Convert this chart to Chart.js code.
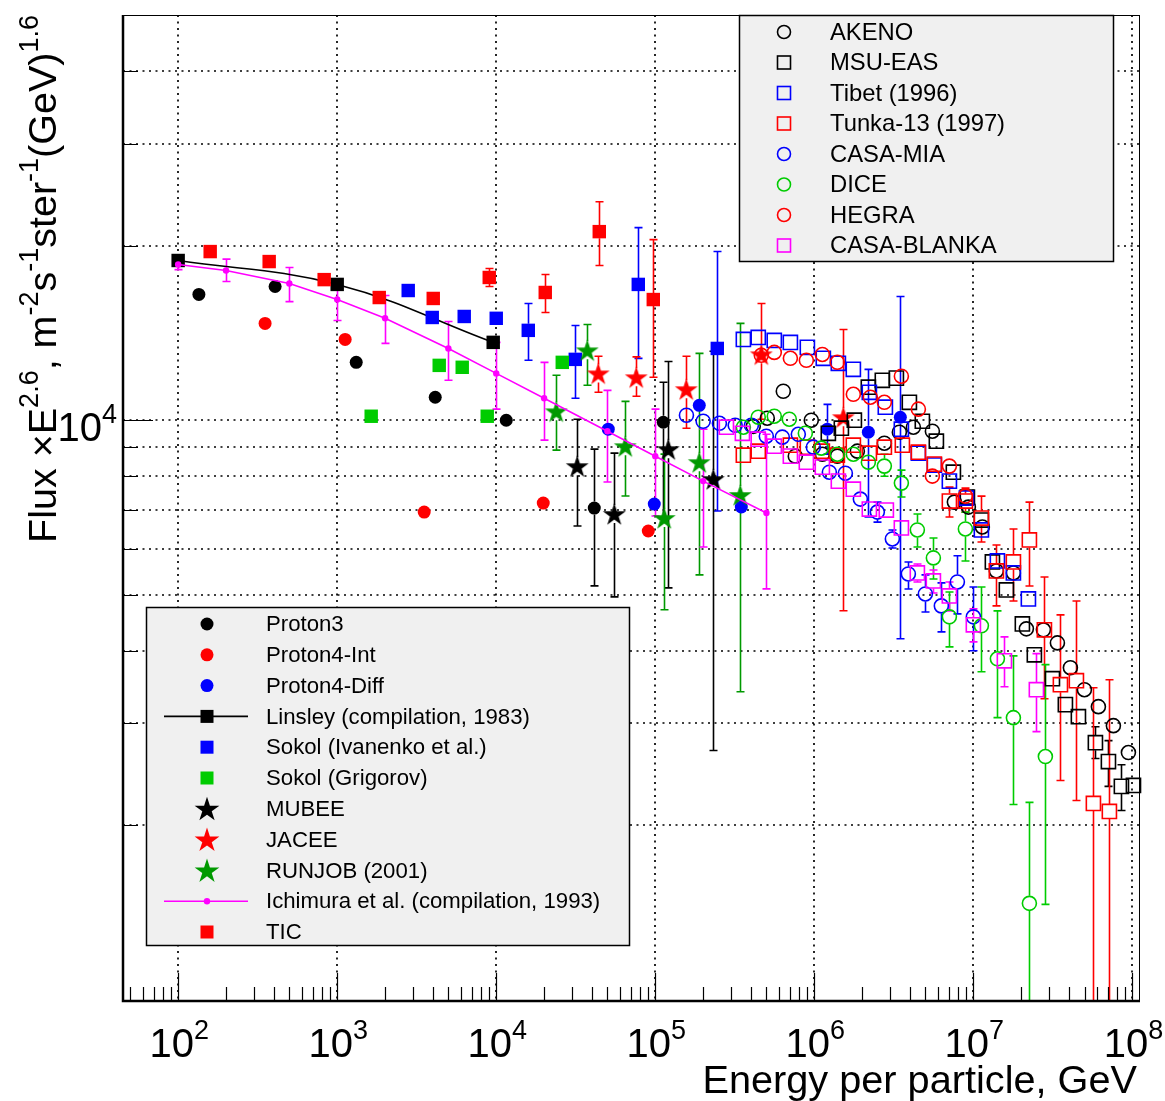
<!DOCTYPE html>
<html>
<head>
<meta charset="utf-8">
<script src="https://cdn.jsdelivr.net/npm/chart.js@4.4.1/dist/chart.umd.min.js"></script>
<style>
  body { margin: 0; background: #fff; }
  #wrap { width: 1165px; height: 1101px; }
</style>
</head>
<body>
<div id="wrap"><canvas id="spectrum" width="1165" height="1101"></canvas></div>
<script>
// ---- data (energy per particle in GeV, flux x E^2.6) ----
const proton3E = [135, 407, 1317, 4134, 11560, 41340, 112300];
const proton3F = [16480, 17010, 12585, 10955, 10000, 7055, 9921];
const proton3Err = [null, null, null, null, null, [5180, 8916], [6755, 11625]];

const proton4IntE = [352, 1122, 3524, 19750, 90360];
const proton4IntF = [14690, 13785, 6945, 7196, 6441];

const proton4DiffE = [50630, 98560, 189100, 347400, 1.207e6, 2.186e6, 3.474e6];
const proton4DiffF = [9650, 7168, 10612, 7085, 9650, 9536, 10120];
const proton4DiffErr = [null, null, null, null, [8740, 10650], [6809, 12240], [4198, 16350]];

const linsleyE = [100, 1000, 9570];
const linsleyF = [18860, 17150, 13625];

const sokolIvE = [2796, 3959, 6290, 10000, 15900, 31400, 78180, 245400];
const sokolIvF = [16740, 15040, 15100, 14990, 14290, 12735, 17150, 13300];
const sokolIvErr = [null, null, null, null, [12687, 15900], [10910, 14570], [12785, 21490], [6973, 19540]];

const sokolGrE = [1636, 4380, 6111, 8777, 26010];
const sokolGrF = [10160, 12435, 12340, 10160, 12585];

const mubeeE = [32310, 55240, 120700, 231700];
const mubeeF = [8333, 6890, 8915, 7915];
const mubeeErr = [[6570, 10040], [4959, 8775], [5138, 12630], [2694, 13150]];

const jaceeE = [43800, 75930, 156700, 464200, 1.522e6];
const jaceeF = [12045, 11860, 11310, 12990, 10120];
const jaceeErr = [[11175, 12890], [11000, 12860], [9687, 12890], [10040, 15900], [4692, 14340]];

const runjobE = [23850, 37350, 64760, 113900, 189100, 342400];
const runjobF = [10360, 13200, 9020, 6781, 8467, 7430];
const runjobErr = [[8880, 11955], [11490, 14630], [7400, 10780], [4710, 8740], [5411, 13040], [3402, 14690]];

const ichimuraE = [100, 200, 500, 1000, 2000, 5000, 1e4, 2e4, 5e4, 1e5, 2e5, 5e5];
const ichimuraF = [18560, 18120, 17210, 16150, 14990, 13300, 12045, 10910, 9574, 8670, 7852, 6918];
const ichimuraErr = [[18190, 18960], [17350, 18960], [16020, 18340], [14860, 17420], [13570, 16410], [11720, 14800],
  [10450, 13625], [9240, 12585], [7823, 11260], [6836, 10450], [6046, 9650], [5118, 9460]];

const ticE = [159, 373.5, 828, 1838, 4017, 9037, 20330, 44440, 97140];
const ticF = [19540, 18780, 17480, 16280, 16220, 17630, 16610, 21150, 16150];
const ticErr = [null, null, null, null, null, [17010, 18270], [15340, 17840], [18490, 23820], [11860, 20490]];

const akenoE = [4.13e5, 5.06e5, 6.38e5, 7.59e5, 9.57e5, 1.123e6, 1.395e6, 1.864e6, 2.756e6, 3.424e6, 4.195e6, 5.524e6,
  7.595e6, 9.303e6, 1.139e7, 1.395e7, 1.785e7, 2.154e7, 2.756e7, 3.376e7, 4.074e7, 4.99e7, 6.111e7, 7.593e7, 9.437e7];
const akenoF = [9761, 10080, 11220, 8671, 10000, 8738, 8671, 8844, 9128, 9535, 9727, 9573,
  7224, 7083, 6545, 5496, 5452, 4367, 4350, 4130, 3742, 3429, 3206, 2973, 2672];

const msuE = [1.225e6, 1.479e6, 1.785e6, 2.186e6, 2.677e6, 3.279e6, 3.959e6, 4.777e6, 5.852e6, 7.486e6, 9.17e6, 1.123e7,
  1.317e7, 1.613e7, 2.033e7, 2.418e7, 3.14e7, 3.789e7, 4.575e7, 5.852e7, 7.066e7, 8.527e7, 1.015e8];
const msuF = [9496, 9689, 10000, 11400, 11720, 11820, 10740, 9960, 9201, 8136, 7370, 6727,
  5696, 5097, 4453, 3939, 3582, 3232, 3081, 2779, 2578, 2336, 2345];
const msuErr = [null, null, null, null, null, null, null, null, null, null, null, null,
  null, null, null, null, null, null, null, [2609, 2961], [2336, 2801], [2123, 2546], null];

const tibetE = [3.58e5, 4.44e5, 5.6e5, 7.07e5, 9.04e5, 1.139e6, 1.416e6, 1.759e6, 2.218e6, 2.796e6, 3.526e6, 4.51e6,
  5.685e6, 7.066e6, 9.037e6, 1.123e7, 1.416e7, 1.785e7, 2.218e7];
const tibetF = [13785, 13895, 13730, 13620, 13356, 12790, 12536, 12240, 11174, 10533, 9650, 8773,
  8367, 7852, 7340, 6467, 5719, 5452, 4918];

const tunkaE = [3.58e5, 4.44e5, 7.07e5, 9.04e5, 1.123e6, 1.395e6, 1.759e6, 2.218e6, 2.756e6, 3.577e6, 4.51e6, 5.685e6,
  7.066e6, 8.907e6, 1.123e7, 1.395e7, 1.785e7, 2.25e7, 2.796e7, 3.526e7, 4.444e7, 5.685e7, 7.165e7];
const tunkaF = [8705, 8844, 9058, 8986, 8844, 8705, 9058, 8773, 8986, 9058, 8809, 8400,
  7253, 7253, 6781, 5496, 5696, 6215, 4350, 3498, 3554, 2183, 2115];
const tunkaErr = [null, null, null, null, null, null, null, null, null, null, null, null,
  [6808, 7666], [6943, 7636], [6165, 7399], [4784, 6094], [4879, 6493], [5178, 7224], [3309, 5367],
  [2391, 4617], [2209, 4879], [500, 3457], [500, 3568]];

const casaMiaE = [1.57e5, 2.0e5, 2.53e5, 3.18e5, 4.02e5, 4.99e5, 6.29e5, 7.93e5, 9.86e5, 1.243e6, 1.567e6, 1.947e6,
  2.49e6, 3.095e6, 3.902e6, 4.99e6, 6.29e6, 7.933e6, 1.0e7];
const casaMiaF = [10200, 9960, 9880, 9800, 9800, 9386, 9350, 9457, 8986, 8136, 8103, 7311,
  6943, 6240, 5430, 5016, 4784, 5261, 4580];
const casaMiaErr = [null, null, null, null, null, null, null, null, null, null, null, null,
  [6673, 7224], [6022, 6467], [5117, 5696], [4670, 5410], [4315, 5241], [4635, 5837], [4002, 5158]];

const diceE = [3.58e5, 4.44e5, 5.6e5, 6.96e5, 8.78e5, 1.107e6, 1.395e6, 1.759e6, 2.186e6, 2.756e6, 3.526e6, 4.444e6,
  5.604e6, 7.066e6, 8.907e6, 1.123e7, 1.416e7, 1.785e7, 2.25e7, 2.836e7];
const diceF = [9727, 10120, 10160, 10040, 9496, 8951, 8738, 8738, 8465, 8334, 7790, 6467,
  5788, 4580, 6493, 4420, 3877, 3069, 1468, 2630];
const diceErr = [null, null, null, null, null, null, null, null, null, [8005, 8738], [7370, 8202], [6046, 6890],
  [5324, 6265], [4066, 5056], [5719, 6943], [3682, 5158], [3069, 4690], [2174, 3923], [500, 2192], [1462, 3788]];

const hegraE = [4.64e5, 5.6e5, 7.07e5, 8.91e5, 1.123e6, 1.395e6, 1.759e6, 2.25e6, 2.756e6, 3.526e6, 4.51e6, 5.524e6,
  7.066e6, 8.907e6];
const hegraF = [12944, 13091, 12790, 12689, 12985, 12587, 11084, 10957, 10740, 11911, 10450, 8010, 8334, 7399];

const blankaE = [2.8e5, 3.53e5, 4.44e5, 5.6e5, 7.07e5, 8.91e5, 1.123e6, 1.416e6, 1.759e6, 2.218e6, 2.836e6, 3.526e6,
  4.444e6, 5.604e6, 7.066e6, 1.0e7, 1.567e7, 2.49e7];
const blankaF = [9727, 9496, 9275, 9022, 8671, 8465, 8301, 7852, 7605, 7027, 6999, 6519,
  5452, 5282, 4977, 4437, 3846, 3429];
const blankaErr = [null, null, null, null, null, null, null, null, null, null, null, null,
  [5261, 5650], [5036, 5518], [4690, 5261], [4147, 4727], [3470, 4230], [2903, 3957]];

// axis ticks
const xDecades = [100, 1e3, 1e4, 1e5, 1e6, 1e7, 1e8];
const yGridValues = [2000, 3000, 4000, 5000, 6000, 7000, 8000, 9000, 10000, 20000, 30000, 40000];

// ---- styling ----
const FONT = "'Liberation Sans', Arial, Helvetica, sans-serif";
const LIGHT_GREEN = '#00cc00';
const DARK_GREEN = '#009900';

function drawStar(g, x, y, R, color) {
  const r = R * 0.382;
  g.beginPath();
  for (let k = 0; k < 10; k++) {
    const rad = k % 2 ? r : R;
    const a = -Math.PI / 2 + k * Math.PI / 5;
    const px = x + rad * Math.cos(a), py = y + rad * Math.sin(a);
    if (k) g.lineTo(px, py); else g.moveTo(px, py);
  }
  g.closePath();
  g.fillStyle = color;
  g.fill();
}

function starImage(color, R) {
  const c = document.createElement('canvas');
  const s = Math.ceil(R * 2 + 2);
  c.width = s; c.height = s;
  drawStar(c.getContext('2d'), s / 2, s / 2 + R * 0.08, R, color);
  return c;
}

function markerStyle(kind, color) {
  switch (kind) {
    case 'dot': return { pointStyle: 'circle', pointRadius: 6.5, pointBackgroundColor: color, pointBorderWidth: 0, gap: 6.5 };
    case 'ring': return { pointStyle: 'circle', pointRadius: 7, pointBackgroundColor: 'rgba(0,0,0,0)', pointBorderColor: color, pointBorderWidth: 1.6, gap: 7.5 };
    case 'box': return { pointStyle: 'rect', pointRadius: 9.5, pointBackgroundColor: color, pointBorderWidth: 0, gap: 6.5 };
    case 'frame': return { pointStyle: 'rect', pointRadius: 10, pointBackgroundColor: 'rgba(0,0,0,0)', pointBorderColor: color, pointBorderWidth: 1.6, gap: 7.5 };
    case 'star': return { pointStyle: starImage(color, 12), pointRadius: 12, gap: 9 };
    case 'smalldot': return { pointStyle: 'circle', pointRadius: 3.2, pointBackgroundColor: color, pointBorderWidth: 0, gap: 0 };
  }
}

function makeSet(label, xs, ys, errs, color, kind, legend, line) {
  return Object.assign({
    label: label,
    data: xs.map((v, i) => ({ x: v, y: ys[i] })),
    errs: errs || null,
    kind: kind, color: color, legend: legend, line: !!line,
    borderColor: color, backgroundColor: color,
    showLine: !!line, borderWidth: 1.6, tension: line === 'curve' ? 0.4 : 0,
    clip: false
  }, markerStyle(kind, color));
}

// drawing order: first entry is drawn first (underneath)
const datasets = [
  makeSet('Proton3', proton3E, proton3F, proton3Err, '#000000', 'dot', 'bl'),
  makeSet('Proton4-Int', proton4IntE, proton4IntF, null, '#ff0000', 'dot', 'bl'),
  makeSet('Proton4-Diff', proton4DiffE, proton4DiffF, proton4DiffErr, '#0000ff', 'dot', 'bl'),
  makeSet('Linsley (compilation, 1983)', linsleyE, linsleyF, null, '#000000', 'box', 'bl', 'curve'),
  makeSet('Sokol (Ivanenko et al.)', sokolIvE, sokolIvF, sokolIvErr, '#0000ff', 'box', 'bl'),
  makeSet('Sokol (Grigorov)', sokolGrE, sokolGrF, null, LIGHT_GREEN, 'box', 'bl'),
  makeSet('MUBEE', mubeeE, mubeeF, mubeeErr, '#000000', 'star', 'bl'),
  makeSet('JACEE', jaceeE, jaceeF, jaceeErr, '#ff0000', 'star', 'bl'),
  makeSet('RUNJOB (2001)', runjobE, runjobF, runjobErr, DARK_GREEN, 'star', 'bl'),
  makeSet('Ichimura et al. (compilation, 1993)', ichimuraE, ichimuraF, ichimuraErr, '#ff00ff', 'smalldot', 'bl', 'straight'),
  makeSet('TIC', ticE, ticF, ticErr, '#ff0000', 'box', 'bl'),
  makeSet('AKENO', akenoE, akenoF, null, '#000000', 'ring', 'tr'),
  makeSet('MSU-EAS', msuE, msuF, msuErr, '#000000', 'frame', 'tr'),
  makeSet('Tibet (1996)', tibetE, tibetF, null, '#0000ff', 'frame', 'tr'),
  makeSet('Tunka-13 (1997)', tunkaE, tunkaF, tunkaErr, '#ff0000', 'frame', 'tr'),
  makeSet('CASA-MIA', casaMiaE, casaMiaF, casaMiaErr, '#0000ff', 'ring', 'tr'),
  makeSet('DICE', diceE, diceF, diceErr, LIGHT_GREEN, 'ring', 'tr'),
  makeSet('HEGRA', hegraE, hegraF, null, '#ff0000', 'ring', 'tr'),
  makeSet('CASA-BLANKA', blankaE, blankaF, blankaErr, '#ff00ff', 'frame', 'tr')
];
datasets.forEach((d, i) => { d.order = -i; });

function legendMarker(g, kind, x, y, color) {
  g.save();
  g.fillStyle = color; g.strokeStyle = color; g.lineWidth = 1.6;
  if (kind === 'dot') { g.beginPath(); g.arc(x, y, 6.5, 0, Math.PI * 2); g.fill(); }
  else if (kind === 'ring') { g.beginPath(); g.arc(x, y, 6.5, 0, Math.PI * 2); g.stroke(); }
  else if (kind === 'box') { g.fillRect(x - 6.5, y - 6.5, 13, 13); }
  else if (kind === 'frame') { g.strokeRect(x - 6.5, y - 6.5, 13, 13); }
  else if (kind === 'star') { drawStar(g, x, y + 1, 13, color); }
  else if (kind === 'smalldot') { g.beginPath(); g.arc(x, y, 3.2, 0, Math.PI * 2); g.fill(); }
  g.restore();
}

function supText(g, parts, x, y, size, align) {
  const sub = Math.round(size * 0.68);
  let w = 0;
  parts.forEach(p => { g.font = (p[1] ? sub : size) + 'px ' + FONT; w += g.measureText(p[0]).width; });
  let cx = align === 'right' ? x - w : align === 'center' ? x - w / 2 : x;
  g.textAlign = 'left'; g.textBaseline = 'alphabetic';
  parts.forEach(p => {
    g.font = (p[1] ? sub : size) + 'px ' + FONT;
    g.fillText(p[0], cx, p[1] ? y - size * 0.45 : y);
    cx += g.measureText(p[0]).width;
  });
}

const legendBoxes = {
  tr: { box: [739, 15, 1113, 261], mx: 784, tx: 830, y0: 32, step: 30.5, font: 23.8 },
  bl: { box: [146, 607, 629, 945], mx: 207, tx: 266, y0: 624, step: 30.8, font: 22.2 }
};

const decorations = {
  id: 'decorations',
  beforeDatasetsDraw(chart) {
    const { ctx, chartArea: a, scales: { x, y } } = chart;
    ctx.save();
    ctx.strokeStyle = '#000'; ctx.lineWidth = 1.7; ctx.setLineDash([2, 4.5]);
    ctx.beginPath();
    xDecades.forEach(v => {
      const px = Math.round(x.getPixelForValue(v));
      ctx.moveTo(px, a.top); ctx.lineTo(px, a.bottom);
    });
    yGridValues.forEach(v => {
      const py = Math.round(y.getPixelForValue(v));
      ctx.moveTo(a.left, py); ctx.lineTo(a.right, py);
    });
    ctx.stroke();
    ctx.setLineDash([]);
    // error bars, clipped to the frame
    ctx.beginPath(); ctx.rect(a.left, a.top, a.right - a.left, a.bottom - a.top); ctx.clip();
    chart.data.datasets.forEach(ds => {
      if (!ds.errs) return;
      ctx.strokeStyle = ds.color; ctx.lineWidth = 1.6;
      ds.data.forEach((p, j) => {
        const e = ds.errs[j];
        if (!e) return;
        const px = Math.round(x.getPixelForValue(p.x)) + 0.5, py = y.getPixelForValue(p.y);
        const lo = y.getPixelForValue(e[0]), hi = y.getPixelForValue(e[1]);
        ctx.beginPath();
        if (hi < py - ds.gap) { ctx.moveTo(px, hi); ctx.lineTo(px, py - ds.gap); }
        if (lo > py + ds.gap) { ctx.moveTo(px, py + ds.gap); ctx.lineTo(px, lo); }
        ctx.moveTo(px - 4, hi); ctx.lineTo(px + 4, hi);
        ctx.moveTo(px - 4, lo); ctx.lineTo(px + 4, lo);
        ctx.stroke();
      });
    });
    ctx.restore();
  },
  afterDatasetsDraw(chart) {
    const ctx = chart.ctx;
    Object.keys(legendBoxes).forEach(key => {
      const L = legendBoxes[key];
      const [x0, y0, x1, y1] = L.box;
      ctx.save();
      ctx.fillStyle = '#f0f0f0';
      ctx.fillRect(x0, y0, x1 - x0, y1 - y0);
      ctx.strokeStyle = '#000'; ctx.lineWidth = 1.5;
      ctx.strokeRect(x0 + 0.5, y0 + 0.5, x1 - x0, y1 - y0);
      const items = chart.data.datasets.filter(d => d.legend === key);
      items.forEach((d, i) => {
        const yy = L.y0 + i * L.step;
        if (d.line) {
          ctx.strokeStyle = d.color; ctx.lineWidth = 1.6;
          ctx.beginPath(); ctx.moveTo(164, yy); ctx.lineTo(248, yy); ctx.stroke();
        }
        legendMarker(ctx, d.kind, L.mx, yy, d.color);
        ctx.fillStyle = '#000';
        ctx.font = L.font + 'px ' + FONT;
        ctx.textAlign = 'left'; ctx.textBaseline = 'middle';
        ctx.fillText(d.label, L.tx, yy + 1);
      });
      ctx.restore();
    });
  },
  afterDraw(chart) {
    const { ctx, chartArea: a, scales: { x, y } } = chart;
    ctx.save();
    ctx.strokeStyle = '#000';
    // frame
    ctx.lineWidth = 1;
    ctx.strokeRect(a.left + 0.5, a.top + 0.5, a.right - a.left, a.bottom - a.top);
    ctx.lineWidth = 2.5;
    ctx.beginPath();
    ctx.moveTo(a.left, a.top); ctx.lineTo(a.left, a.bottom + 1);
    ctx.lineTo(a.right + 1, a.bottom + 1);
    ctx.stroke();
    // x ticks (inside)
    ctx.lineWidth = 1.2;
    ctx.beginPath();
    for (let d = 1; d <= 8; d++) {
      for (let m = 1; m <= 9; m++) {
        const v = m * Math.pow(10, d);
        if (v < x.min || v > x.max) continue;
        const px = Math.round(x.getPixelForValue(v)) + 0.5;
        ctx.moveTo(px, a.bottom); ctx.lineTo(px, a.bottom - (m === 1 ? 27 : 13));
      }
    }
    // y ticks (inside)
    for (let v = 2000; v <= 40000; v += (v < 10000 ? 1000 : 10000)) {
      const py = Math.round(y.getPixelForValue(v)) + 0.5;
      ctx.moveTo(a.left, py); ctx.lineTo(a.left + (v === 10000 ? 30 : 15), py);
    }
    ctx.stroke();
    // labels
    ctx.fillStyle = '#000';
    xDecades.forEach(v => {
      const px = x.getPixelForValue(v);
      supText(ctx, [['10', 0], [String(Math.round(Math.log10(v))), 1]], px + 1, 1057, 40, 'center');
    });
    supText(ctx, [['10', 0], ['4', 1]], 117, 441, 40, 'right');
    ctx.font = '39.7px ' + FONT;
    ctx.textAlign = 'right'; ctx.textBaseline = 'alphabetic';
    ctx.fillText('Energy per particle, GeV', 1137, 1093);
    // y title, rotated
    ctx.translate(56, 15);
    ctx.rotate(-Math.PI / 2);
    supText(ctx, [['Flux \u00d7E', 0], ['2.6', 1], [', m', 0], ['-2', 1], ['s', 0], ['-1', 1], ['ster', 0], ['-1', 1],
      ['(GeV)', 0], ['1.6', 1]], 0, 0, 39.5, 'right');
    ctx.restore();
  }
};

new Chart(document.getElementById('spectrum'), {
  type: 'scatter',
  data: { datasets: datasets },
  options: {
    responsive: false,
    animation: false,
    events: [],
    layout: { padding: { left: 123, top: 15, right: 26, bottom: 101 } },
    scales: {
      x: { type: 'logarithmic', min: 45, max: 1.1e8, display: false },
      y: { type: 'logarithmic', min: 1000, max: 50000, display: false }
    },
    plugins: {
      legend: { display: false },
      tooltip: { enabled: false },
      colors: { enabled: false }
    }
  },
  plugins: [decorations]
});
</script>
</body>
</html>
